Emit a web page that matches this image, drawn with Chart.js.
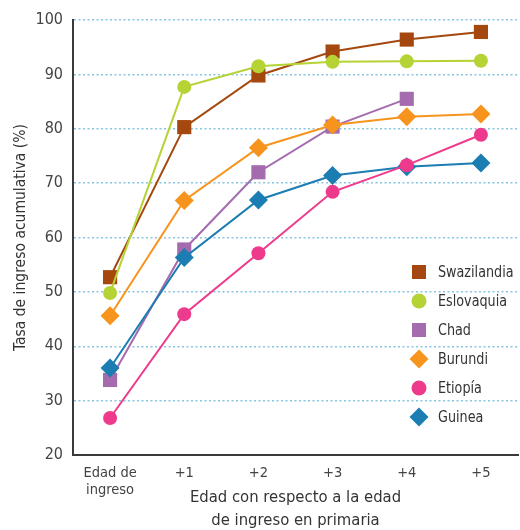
<!DOCTYPE html>
<html>
<head>
<meta charset="utf-8">
<script src="https://cdn.jsdelivr.net/npm/chart.js@4/dist/chart.umd.min.js"></script>
<style>
  html, body { margin: 0; padding: 0; background: #fff; }
  #wrap { width: 520px; height: 530px; position: relative; }
</style>
</head>
<body>
<div id="wrap"><canvas id="c"></canvas></div>
<script>
// ---- Data ----
const categories = [['Edad de', 'ingreso'], '+1', '+2', '+3', '+4', '+5'];
const countries = ['Swazilandia', 'Eslovaquia', 'Chad', 'Burundi', 'Etiopía', 'Guinea'];
const swazilandia = [52.7, 80.3, 89.8, 94.2, 96.4, 97.8];
const eslovaquia  = [49.8, 87.7, 91.5, 92.3, 92.4, 92.5];
const chad        = [33.8, 57.8, 72.0, 80.4, 85.5, null];
const burundi     = [45.6, 66.8, 76.5, 80.7, 82.2, 82.7];
const etiopia     = [26.8, 45.9, 57.1, 68.4, 73.3, 78.9];
const guinea      = [36.0, 56.3, 66.9, 71.4, 73.0, 73.7];
const yTicks = [20, 30, 40, 50, 60, 70, 80, 90, 100];
const yTitle = 'Tasa de ingreso acumulativa (%)';
const xTitle = ['Edad con respecto a la edad', 'de ingreso en primaria'];

const FONT = "'Liberation Sans Narrow', 'DejaVu Sans Condensed', 'Roboto Condensed', sans-serif";

function mk(label, data, color, style, radius, order) {
  return {
    label, data,
    borderColor: color, backgroundColor: color,
    pointBackgroundColor: color, pointBorderColor: color,
    pointStyle: style, pointRadius: radius, pointHoverRadius: radius,
    pointBorderWidth: 0,
    borderWidth: 2, tension: 0, fill: false, spanGaps: false,
    order
  };
}

const series = [swazilandia, eslovaquia, chad, burundi, etiopia, guinea];
const colors = ['#A5480F', '#B5D334', '#A56BAF', '#F7941E', '#EE3A8C', '#1B7DB1'];
const styles = ['rect', 'circle', 'rect', 'rectRot', 'circle', 'rectRot'];
const radii  = [10, 7, 10, 9.5, 7, 9.5];
const orders = [5, 4, 3, 2, 0, 1];

const datasets = countries.map((n, i) => mk(n, series[i], colors[i], styles[i], radii[i], orders[i]));

function drawMarker(ctx, style, x, y) {
  ctx.beginPath();
  if (style === 'rect') {
    ctx.rect(x - 7, y - 7, 14, 14);
  } else if (style === 'circle') {
    ctx.arc(x, y, 7.5, 0, Math.PI * 2);
  } else {
    const r = 9.5;
    ctx.moveTo(x, y - r); ctx.lineTo(x + r, y); ctx.lineTo(x, y + r); ctx.lineTo(x - r, y);
    ctx.closePath();
  }
  ctx.fill();
}

const sideLegend = {
  id: 'sideLegend',
  afterDraw(chart) {
    const ctx = chart.ctx, ca = chart.chartArea;
    const x0 = ca.right - 99, y0 = ca.bottom - 183, step = 29;
    chart.data.datasets.forEach((ds, i) => {
      const y = y0 + i * step;
      ctx.save();
      ctx.fillStyle = ds.backgroundColor;
      drawMarker(ctx, ds.pointStyle, x0, y);
      ctx.fillStyle = '#333';
      ctx.font = '16.5px ' + FONT;
      ctx.textBaseline = 'middle';
      ctx.textAlign = 'left';
      ctx.translate(x0 + 19, y + 1);
      ctx.scale(0.86, 1);
      ctx.fillText(ds.label, 0, 0);
      ctx.restore();
    });
  }
};

new Chart(document.getElementById('c'), {
  type: 'line',
  data: { labels: categories, datasets },
  plugins: [sideLegend],
  options: {
    responsive: true,
    maintainAspectRatio: false,
    animation: false,
    layout: { autoPadding: false, padding: { top: 20, right: 2, left: 0, bottom: 0 } },
    plugins: { legend: { display: false }, tooltip: { enabled: false } },
    scales: {
      x: {
        offset: true,
        grid: { display: false, drawTicks: false },
        border: { display: true, color: '#3a3a3a', width: 2 },
        ticks: { color: '#444', font: { family: FONT, size: 14.5, lineHeight: 1.15 }, padding: 10, maxRotation: 0, autoSkip: false },
        title: { display: true, text: xTitle, color: '#333', font: { family: FONT, size: 16.5, lineHeight: 1.4 }, padding: { top: 0, bottom: -2 } },
        afterFit(s) { s.height = 75; s.paddingLeft = 0; s.paddingRight = 0; }
      },
      y: {
        min: 20, max: 100,
        afterBuildTicks(s) { s.ticks = yTicks.map(v => ({ value: v })); },
        grid: {
          drawTicks: false,
          color: ctx => (ctx.tick && ctx.tick.value === 20) ? 'rgba(0,0,0,0)' : '#86C5E2',
          lineWidth: 1.5
        },
        border: { display: true, color: '#3a3a3a', width: 2, dash: [2, 2.5] },
        ticks: { color: '#444', font: { family: FONT, size: 16 }, padding: 10 },
        title: { display: true, text: yTitle, color: '#333', font: { family: FONT, size: 15.5, lineHeight: 1.2 }, padding: { top: 12, bottom: 0 } },
        afterFit(s) { s.width = 73; s.paddingTop = 0; s.paddingBottom = 0; }
      }
    }
  }
});
</script>
</body>
</html>
